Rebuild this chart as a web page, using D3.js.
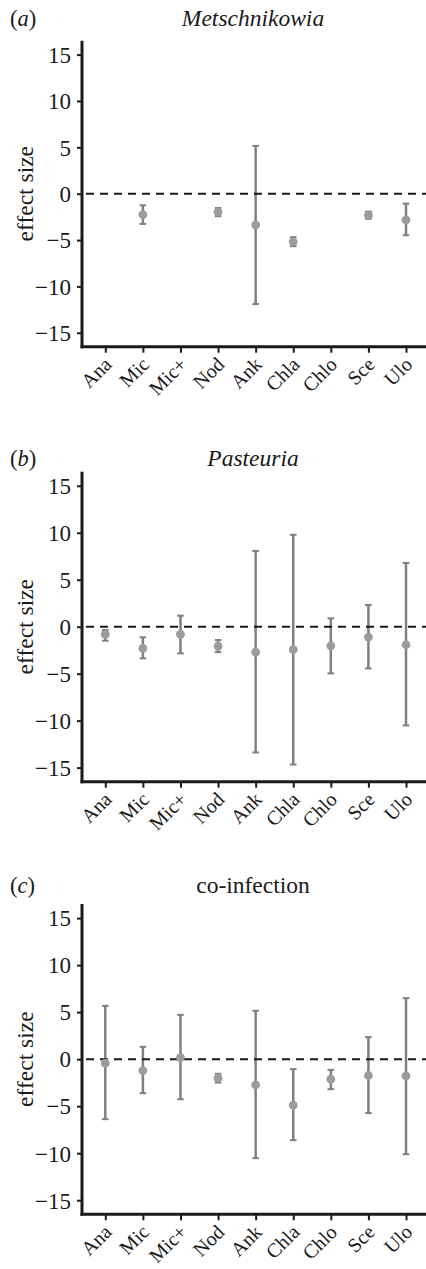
<!DOCTYPE html>
<html>
<head>
<meta charset="utf-8">
<script src="https://cdn.jsdelivr.net/npm/d3@7"></script>
<style>
  body { margin: 0; background: #fff; }
  svg { display: block; }
</style>
</head>
<body>
<div id="chart"></div>
<script>
const categories = ["Ana", "Mic", "Mic+", "Nod", "Ank", "Chla", "Chlo", "Sce", "Ulo"];
const yTicks = [-15, -10, -5, 0, 5, 10, 15];
const panelTags = ["a", "b", "c"];
const panelTitles = ["Metschnikowia", "Pasteuria", "co-infection"];

// Metschnikowia (null = not measured)
const metschEst  = [null, -2.26, null, -1.97, -3.37, -5.19, null, -2.33, -2.83];
const metschLow  = [null, -3.26, null, -2.43, -11.9, -5.66, null, -2.72, -4.48];
const metschHigh = [null, -1.25, null, -1.54, 5.16, -4.69, null, -1.93, -1.07];

// Pasteuria
const pastEst  = [-0.81, -2.30, -0.81, -2.06, -2.70, -2.45, -2.03, -1.10, -1.92];
const pastLow  = [-1.49, -3.37, -2.84, -2.70, -13.39, -14.67, -4.97, -4.44, -10.51];
const pastHigh = [-0.35, -1.13, 1.17, -1.42, 8.07, 9.78, 0.89, 2.31, 6.79];

// co-infection
const coEst  = [-0.43, -1.21, 0.17, -2.02, -2.73, -4.89, -2.13, -1.74, -1.78];
const coLow  = [-6.38, -3.62, -4.26, -2.49, -10.53, -8.62, -3.19, -5.74, -10.11];
const coHigh = [5.67, 1.31, 4.71, -1.56, 5.14, -1.06, -1.14, 2.34, 6.49];

const series = [
  [metschEst, metschLow, metschHigh],
  [pastEst, pastLow, pastHigh],
  [coEst, coLow, coHigh]
];

// layout
const W = 426, H = 1269;
const axisX = 82;
const tops = [40.7, 471.7, 904];
const bottoms = [346.7, 781.7, 1214.3];
const titleY = [26, 466, 893];
const font = "'Liberation Serif', 'Times New Roman', serif";
const fs = 22.5;
const barColor = "#808080", dotColor = "#9c9c9c", ink = "#1a1a1a";

const svg = d3.select('#chart')
  .append('svg')
    .attr('width', W)
    .attr('height', H);

const x = d3.scalePoint()
  .domain(categories)
  .range([105.3, 406]);

series.forEach((s, i) => {
  const [est, low, high] = s;
  const rows = categories.map((c, k) => ({cat: c, est: est[k], low: low[k], high: high[k]}))
    .filter(d => d.est !== null);

  const y = d3.scaleLinear()
    .domain([-16.5, 16.5])
    .range([bottoms[i], tops[i]]);

  const g = svg.append('g');

  // tag and title
  const tag = g.append('text')
    .attr('x', 10).attr('y', titleY[i])
    .attr('font-family', font).attr('font-size', fs).attr('fill', ink);
  tag.append('tspan').text('(');
  tag.append('tspan').attr('font-style', 'italic').text(panelTags[i]);
  tag.append('tspan').text(')');

  g.append('text')
    .attr('x', 253).attr('y', titleY[i])
    .attr('text-anchor', 'middle')
    .attr('font-family', font).attr('font-size', 23.5)
    .attr('font-style', i < 2 ? 'italic' : 'normal')
    .attr('fill', ink)
    .text(panelTitles[i]);

  // y axis
  const yAxis = d3.axisLeft(y)
    .tickValues(yTicks)
    .tickSize(5)
    .tickSizeOuter(0)
    .tickPadding(6)
    .tickFormat(d => d < 0 ? '\u2212' + Math.abs(d) : d);
  const ya = g.append('g')
    .attr('transform', `translate(${axisX},0)`)
    .call(yAxis);
  ya.select('.domain').remove();
  ya.selectAll('.tick line').attr('stroke', ink).attr('stroke-width', 2);
  ya.selectAll('.tick text')
    .attr('dy', '0.34em')
    .attr('font-family', font).attr('font-size', 23).attr('fill', ink);

  // x axis
  const xAxis = d3.axisBottom(x).tickSize(6).tickSizeOuter(0);
  const xa = g.append('g')
    .attr('transform', `translate(0,${bottoms[i]})`)
    .call(xAxis);
  xa.select('.domain').remove();
  xa.selectAll('.tick line').attr('stroke', ink).attr('stroke-width', 2);
  xa.selectAll('.tick text')
    .attr('x', 0).attr('y', 0).attr('dy', 0)
    .attr('text-anchor', 'end')
    .attr('transform', 'translate(7,19) rotate(-45)')
    .attr('font-family', font).attr('font-size', 20).attr('fill', ink);

  // axis lines
  g.append('line')
    .attr('x1', axisX).attr('x2', axisX)
    .attr('y1', tops[i]).attr('y2', bottoms[i] + 1.5)
    .attr('stroke', ink).attr('stroke-width', 3);
  g.append('line')
    .attr('x1', axisX - 1.5).attr('x2', W)
    .attr('y1', bottoms[i]).attr('y2', bottoms[i])
    .attr('stroke', ink).attr('stroke-width', 3);

  // y label
  g.append('text')
    .attr('transform', `translate(33,${(tops[i] + bottoms[i]) / 2}) rotate(-90)`)
    .attr('text-anchor', 'middle')
    .attr('font-family', font).attr('font-size', 23.5).attr('fill', ink)
    .text('effect size');

  // error bars
  g.selectAll('.bar')
    .data(rows)
    .enter().append('line')
      .attr('x1', d => x(d.cat)).attr('x2', d => x(d.cat))
      .attr('y1', d => y(d.low)).attr('y2', d => y(d.high))
      .attr('stroke', barColor).attr('stroke-width', 2.5);
  [d => d.low, d => d.high].forEach(f => {
    g.selectAll(null)
      .data(rows)
      .enter().append('line')
        .attr('x1', d => x(d.cat) - 3.3).attr('x2', d => x(d.cat) + 3.3)
        .attr('y1', d => y(f(d))).attr('y2', d => y(f(d)))
        .attr('stroke', barColor).attr('stroke-width', 2);
  });

  // zero line
  g.append('line')
    .attr('x1', axisX + 4).attr('x2', W)
    .attr('y1', y(0)).attr('y2', y(0))
    .attr('stroke', ink).attr('stroke-width', 2)
    .attr('stroke-dasharray', '8,6');

  // points
  g.selectAll('circle')
    .data(rows)
    .enter().append('circle')
      .attr('cx', d => x(d.cat))
      .attr('cy', d => y(d.est))
      .attr('r', 4.4)
      .attr('fill', dotColor);
});
</script>
</body>
</html>
